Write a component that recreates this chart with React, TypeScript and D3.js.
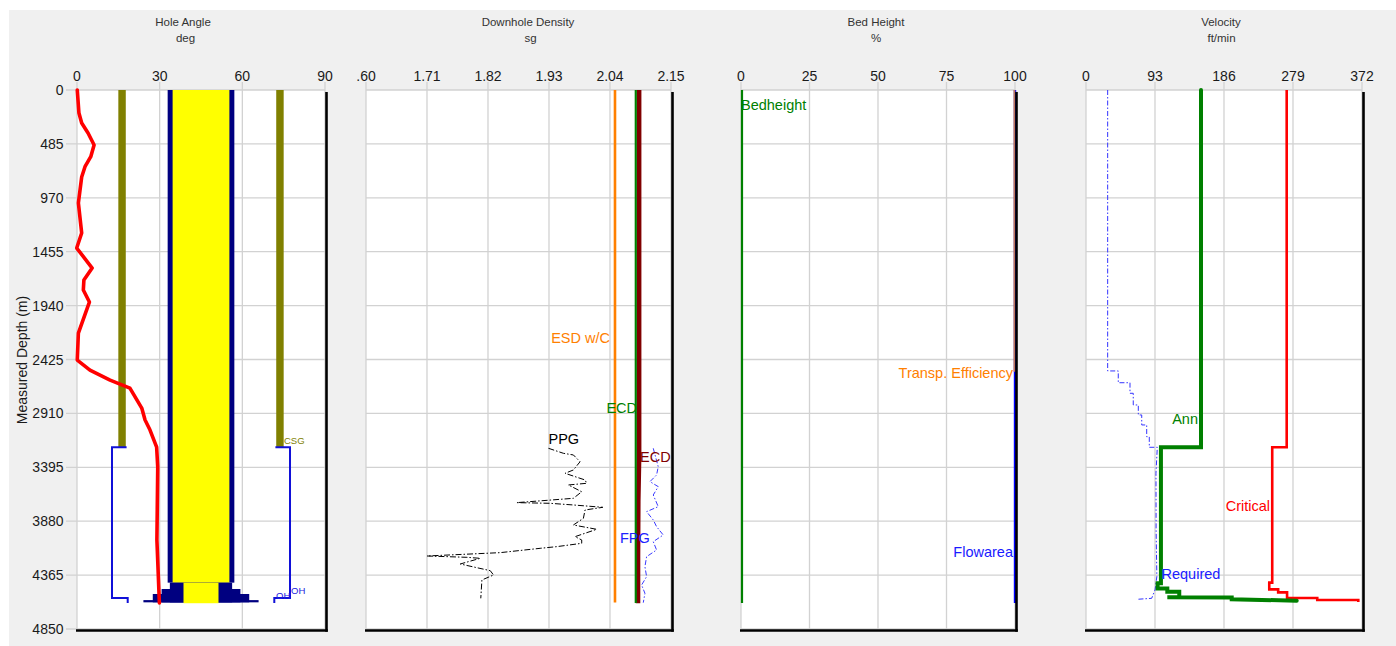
import React from "react";
import * as d3 from "d3";

// ---------- axis ticks ----------
const depthTicks = [0, 485, 970, 1455, 1940, 2425, 2910, 3395, 3880, 4365, 4850];
const angleTicks = [0, 30, 60, 90];
const densityTicks = [1.6, 1.71, 1.82, 1.93, 2.04, 2.15];
const densityTickLabels = [".60", "1.71", "1.82", "1.93", "2.04", "2.15"];
const bedTicks = [0, 25, 50, 75, 100];
const velocityTicks = [0, 93, 186, 279, 372];

type P = [number, number]; // [depth m, value]

// ---------- Hole angle (deg) ----------
const inclination: P[] = [
  [0, 0.1], [207, 0.7], [297, 1.7], [387, 4.0], [495, 6.2], [600, 5.0], [690, 2.9],
  [783, 1.7], [1017, 0.5], [1287, 1.7], [1422, -0.1], [1602, 5.5], [1710, 2.5],
  [1800, 2.3], [1908, 4.5], [2187, 0.5], [2430, 0.1], [2520, 4.7], [2610, 12],
  [2682, 19.2], [2862, 23.5], [2970, 24.7], [3060, 26.5], [3213, 28.9], [3393, 29.3],
  [4050, 29.0], [4616, 29.9],
];

// ---------- Wellbore schematic (drawn in angle units, centred on 45) ----------
const wellCenter = 45;
const casingShoe = 3215;
const casingHalf = [27.3, 30.0];
const openHoleBottom = 4571;
const openHoleTail = 4616;
const openHoleHalf = 32.3;
const openHoleInnerHalf = 27.0;
const pipeBottom = 4433;
const pipeHalf = [10.3, 12.1];
const bhaTops = [4433, 4490, 4535, 4590];
const bhaHalfs = [11.3, 14.3, 17.5, 20.9];
const bhaBoreHalf = 6.35;
const bitDepth = 4610;

// ---------- Downhole density (sg) ----------
const esd: P[] = [[0, 2.049], [4612, 2.049]];
const ecdGreen: P[] = [[0, 2.0865], [4615, 2.0865]];
const ecdRed: P[] = [[0, 2.0925], [3300, 2.0925], [3700, 2.091], [4200, 2.0905], [4618, 2.0905]];
const ppg: P[] = [
  [3224, 1.929], [3269, 1.956], [3284, 1.974], [3345, 1.986], [3419, 1.974], [3449, 1.959],
  [3509, 1.995], [3539, 1.998], [3554, 1.965], [3615, 1.989], [3674, 1.974], [3713, 1.872],
  [3719, 1.932], [3734, 1.974], [3755, 2.027], [3779, 1.995], [3854, 1.992], [3914, 1.974],
  [3953, 2.016], [4019, 1.977], [4049, 1.989], [4079, 1.989], [4109, 1.944], [4124, 1.914],
  [4163, 1.842], [4193, 1.710], [4205, 1.782], [4214, 1.806], [4265, 1.770], [4325, 1.824],
  [4364, 1.830], [4409, 1.809], [4574, 1.807],
];
const fpg: P[] = [
  [3224, 2.118], [3390, 2.127], [3464, 2.124], [3524, 2.112], [3569, 2.127], [3644, 2.118],
  [3749, 2.127], [3794, 2.106], [3869, 2.118], [3929, 2.124], [4004, 2.136], [4064, 2.118],
  [4139, 2.124], [4199, 2.106], [4289, 2.103], [4379, 2.106], [4454, 2.097], [4529, 2.103],
  [4613, 2.100],
];

// ---------- Bed height (%) ----------
const bedHeight: P[] = [[0, 0], [4615, 0]];
const flowArea: P[] = [[0, 100], [4615, 100]];
const transpEff: P[] = [[0, 100], [2535, 100]];

// ---------- Velocity (ft/min) ----------
const required: P[] = [
  [0, 29.2], [2528, 29.2], [2528, 43.5], [2634, 43.5], [2634, 59.3], [2729, 59.3],
  [2729, 63.7], [2834, 63.7], [2834, 70.5], [2924, 70.5], [2924, 75.1], [3014, 75.1],
  [3014, 81.8], [3120, 81.8], [3120, 85.3], [3215, 85.3], [3215, 96.1], [3449, 94.3],
  [3959, 94.5], [4379, 95.5], [4499, 93], [4574, 88.5], [4583, 68.3],
];
const annular: P[] = [
  [0, 155], [3215, 155], [3215, 101], [4439, 101], [4439, 96.5], [4485, 96.5],
  [4485, 109.6], [4515, 109.6], [4515, 125.7], [4565, 125.7], [4565, 109.6],
  [4567, 196.4], [4583, 196.4], [4595, 284],
];
const critical: P[] = [
  [0, 270.5], [3215, 270.5], [3215, 251], [4433, 251], [4433, 247], [4493, 247],
  [4493, 259], [4520, 259], [4520, 271], [4571, 271], [4571, 311.7], [4589, 311.7],
  [4589, 367], [4607, 367],
];

const FONT = "'Liberation Sans', Arial, Helvetica, sans-serif";
const GRID = "#d2d2d2";

type Scale = d3.ScaleLinear<number, number>;

function Frame({ x, y, ticks, labels, title, unit, tx, ux, depthAxis }: any) {
  const [x0, x1] = x.range();
  const [y0, y1] = y.range();
  return (
    <g>
      <rect x={x0} y={y0} width={x1 - x0} height={y1 - y0} fill="#fff" />
      {depthTicks.map((d) => (
        <line key={"h" + d} x1={depthAxis ? 66 : x0} x2={x1} y1={y(d)} y2={y(d)} stroke={GRID} strokeWidth={1.3} />
      ))}
      {ticks.map((t: number) => (
        <line key={"v" + t} x1={x(t)} x2={x(t)} y1={82} y2={y1} stroke={GRID} strokeWidth={1.3} />
      ))}
      {ticks.map((t: number, i: number) => (
        <text key={"t" + t} x={x(t)} y={81} textAnchor="middle" fontSize={14} fill="#1a1a1a">
          {labels[i]}
        </text>
      ))}
      <text x={tx} y={26} textAnchor="middle" fontSize={11.5} fill="#333">{title}</text>
      <text x={ux} y={42} textAnchor="middle" fontSize={11.5} fill="#333">{unit}</text>
      {depthAxis &&
        depthTicks.map((d) => (
          <text key={"d" + d} x={63.5} y={y(d)} dy="0.36em" textAnchor="end" fontSize={14} fill="#1a1a1a">
            {d}
          </text>
        ))}
    </g>
  );
}

function Border({ x, y }: any) {
  const [x0, x1] = x.range();
  const [, y1] = y.range();
  return (
    <g>
      <line x1={x1 + 1.5} x2={x1 + 1.5} y1={92} y2={y1 + 2.7} stroke="#000" strokeWidth={2.6} />
      <line x1={x0 - 1} x2={x1 + 2.8} y1={y1 + 1.5} y2={y1 + 1.5} stroke="#000" strokeWidth={2.6} />
    </g>
  );
}

export default function App() {
  const W = 1396, H = 646;
  const y: Scale = d3.scaleLinear().domain([0, 4850]).range([90, 629]);
  const xA: Scale = d3.scaleLinear().domain([0, 90]).range([77, 325]);
  const xD: Scale = d3.scaleLinear().domain([1.6, 2.15]).range([366, 671]);
  const xB: Scale = d3.scaleLinear().domain([0, 100]).range([741, 1015]);
  const xV: Scale = d3.scaleLinear().domain([0, 372]).range([1086, 1362]);

  const path = (x: Scale, data: P[]) =>
    d3.line<P>().x((d) => x(d[1])).y((d) => y(d[0]))(data) || "";

  const rectA = (a0: number, a1: number, d0: number, d1: number, fill: string, key: string) => (
    <rect key={key} x={xA(a0)} y={y(d0)} width={xA(a1) - xA(a0)} height={y(d1) - y(d0)} fill={fill} />
  );

  const c = wellCenter;
  const holeL = `M${xA(c - openHoleInnerHalf)},${y(casingShoe)}H${xA(c - openHoleHalf)}V${y(openHoleBottom)}H${xA(c - openHoleInnerHalf + 0.4)}V${y(openHoleTail)}`;
  const holeR = `M${xA(c + openHoleInnerHalf)},${y(casingShoe)}H${xA(c + openHoleHalf)}V${y(openHoleBottom)}H${xA(c + openHoleInnerHalf - 0.4)}V${y(openHoleTail)}`;

  const NAVY = "#000080";
  const bhaOrder = bhaTops.map((t, i) => i).reverse();

  return (
    <div style={{ position: "absolute", left: 0, top: 0 }}>
      <svg width={W} height={H} style={{ display: "block" }} fontFamily={FONT}>
        <rect x={0} y={0} width={W} height={H} fill="#fff" />
        <rect x={9} y={10} width={W - 9} height={H - 10} fill="#f0f0f0" />

        {/* Panel 1 : Hole Angle */}
        <Frame x={xA} y={y} ticks={angleTicks} labels={angleTicks.map(String)} title="Hole Angle" unit="deg" tx={183} ux={185.5} depthAxis />
        <text transform="translate(27,360) rotate(-90)" textAnchor="middle" fontSize={14} fill="#1a1a1a">
          Measured Depth (m)
        </text>
        {/* casing */}
        {rectA(c - casingHalf[1], c - casingHalf[0], 0, casingShoe, "#808000", "csgL")}
        {rectA(c + casingHalf[0], c + casingHalf[1], 0, casingShoe, "#808000", "csgR")}
        {/* open hole */}
        <path d={holeL} fill="none" stroke="#1010d8" strokeWidth={2} />
        <path d={holeR} fill="none" stroke="#1010d8" strokeWidth={2} />
        {/* drill pipe */}
        {rectA(c - pipeHalf[1], c + pipeHalf[1], 0, pipeBottom, NAVY, "pipeO")}
        {rectA(c - pipeHalf[0], c + pipeHalf[0], 0, pipeBottom, "#ffff00", "pipeI")}
        {/* BHA */}
        {bhaOrder.map((i) => rectA(c - bhaHalfs[i], c + bhaHalfs[i], bhaTops[i], bitDepth, NAVY, "bha" + i))}
        {rectA(c - bhaBoreHalf, c + bhaBoreHalf, pipeBottom, bitDepth + 8, "#ffff00", "bore")}
        <path d={path(xA, inclination)} fill="none" stroke="#ff0000" strokeWidth={3.6} strokeLinejoin="round" strokeLinecap="round" />
        <text x={284} y={444} fontSize={9.5} fill="#808000">CSG</text>
        <text x={276} y={599} fontSize={9.5} fill="#2020e0">OH</text>
        <text x={291} y={594} fontSize={9.5} fill="#2020e0">OH</text>
        <Border x={xA} y={y} />

        {/* Panel 2 : Downhole Density */}
        <Frame x={xD} y={y} ticks={densityTicks} labels={densityTickLabels} title="Downhole Density" unit="sg" tx={528} ux={530.5} />
        <path d={path(xD, esd)} fill="none" stroke="#ff8000" strokeWidth={2.6} />
        <path d={path(xD, ecdRed)} fill="none" stroke="#800000" strokeWidth={4.6} />
        <path d={path(xD, ecdGreen)} fill="none" stroke="#008000" strokeWidth={2.2} />
        <path d={path(xD, ppg)} fill="none" stroke="#000" strokeWidth={1} strokeDasharray="6,2,1.5,2" />
        <path d={path(xD, fpg)} fill="none" stroke="#3a3aff" strokeWidth={1} strokeDasharray="5,2,1.5,2" />
        <text x={610} y={342.5} textAnchor="end" fontSize={14.5} fill="#ff8000">ESD w/C</text>
        <text x={637} y={412.5} textAnchor="end" fontSize={14.5} fill="#008000">ECD</text>
        <text x={548.5} y={444} fontSize={14.5} fill="#000">PPG</text>
        <text x={640} y={461.5} fontSize={14.5} fill="#800000">ECD</text>
        <text x={620} y={543.3} fontSize={14.5} fill="#2020ff">FPG</text>
        <Border x={xD} y={y} />

        {/* Panel 3 : Bed Height */}
        <Frame x={xB} y={y} ticks={bedTicks} labels={bedTicks.map(String)} title="Bed Height" unit="%" tx={876} ux={876} />
        <path d={path(xB, flowArea)} fill="none" stroke="#0000ff" strokeWidth={2.4} />
        <path d={path(xB, transpEff)} fill="none" stroke="#c07860" strokeWidth={1.8} transform="translate(-0.6,0)" />
        <path d={path(xB, bedHeight)} fill="none" stroke="#008000" strokeWidth={2.2} transform="translate(1,0)" />
        <text x={741} y={109.5} fontSize={14.5} fill="#008000">Bedheight</text>
        <text x={1013} y={378} textAnchor="end" fontSize={14.5} fill="#ff8000">Transp. Efficiency</text>
        <text x={1013} y={557} textAnchor="end" fontSize={14.5} fill="#1a1aff">Flowarea</text>
        <Border x={xB} y={y} />

        {/* Panel 4 : Velocity */}
        <Frame x={xV} y={y} ticks={velocityTicks} labels={velocityTicks.map(String)} title="Velocity" unit="ft/min" tx={1221} ux={1221.5} />
        <path d={path(xV, required)} fill="none" stroke="#3333ff" strokeWidth={1} strokeDasharray="5,2,1.5,2" />
        <path d={path(xV, critical)} fill="none" stroke="#ff0000" strokeWidth={2.6} />
        <path d={path(xV, annular)} fill="none" stroke="#008000" strokeWidth={4} strokeLinecap="round" strokeLinejoin="miter" />
        <text x={1198} y={423.5} textAnchor="end" fontSize={14.5} fill="#008000">Ann</text>
        <text x={1270} y={510.5} textAnchor="end" fontSize={14.5} fill="#ff0000">Critical</text>
        <text x={1161.5} y={579} fontSize={14.5} fill="#2020ff">Required</text>
        <Border x={xV} y={y} />
      </svg>
    </div>
  );
}
